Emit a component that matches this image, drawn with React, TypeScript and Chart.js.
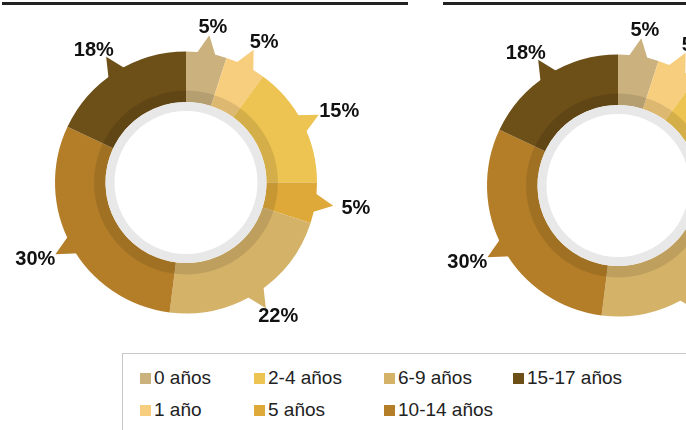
import React, { useEffect, useRef } from "react";
import { Chart, registerables } from "chart.js";

Chart.register(...registerables);

const categories = ["0 años", "1 año", "2-4 años", "5 años", "6-9 años", "10-14 años", "15-17 años"];
const leftValues = [5, 5, 15, 5, 22, 30, 18];
const rightValues = [5, 5, 15, 5, 22, 30, 18];
const colors = ["#CAB17D", "#F7CD7E", "#EDC352", "#DEA939", "#D4B268", "#B47E28", "#6D4F18"];

const decorPlugin = {
  id: "decor",
  beforeDatasetsDraw(chart: any) {
    const ctx = chart.ctx;
    const meta = chart.getDatasetMeta(0);
    meta.data.forEach((arc: any, i: number) => {
      const { x, y, startAngle, endAngle, outerRadius } = arc.getProps(["x", "y", "startAngle", "endAngle", "outerRadius"], true);
      const mid = (startAngle + endAngle) / 2;
      const hw = (4.7 * Math.PI) / 180;
      const rb = outerRadius - 3;
      const rt = outerRadius + 18;
      ctx.save();
      ctx.beginPath();
      ctx.moveTo(x + rb * Math.cos(mid - hw), y + rb * Math.sin(mid - hw));
      ctx.lineTo(x + rt * Math.cos(mid), y + rt * Math.sin(mid));
      ctx.lineTo(x + rb * Math.cos(mid + hw), y + rb * Math.sin(mid + hw));
      ctx.closePath();
      ctx.fillStyle = colors[i];
      ctx.fill();
      ctx.restore();
    });
  },
  afterDatasetsDraw(chart: any) {
    const ctx = chart.ctx;
    const meta = chart.getDatasetMeta(0);
    const first = meta.data[0];
    if (!first) return;
    const { x, y, innerRadius, outerRadius } = first.getProps(["x", "y", "innerRadius", "outerRadius"], true);
    ctx.save();
    // translucent inner band
    ctx.beginPath();
    ctx.arc(x, y, innerRadius + 11.5, 0, Math.PI * 2);
    ctx.arc(x, y, innerRadius, 0, Math.PI * 2, true);
    ctx.fillStyle = "rgba(0,0,0,0.1)";
    ctx.fill("evenodd");
    // light gray ring
    ctx.beginPath();
    ctx.arc(x, y, innerRadius, 0, Math.PI * 2);
    ctx.arc(x, y, innerRadius - 9, 0, Math.PI * 2, true);
    ctx.fillStyle = "#E8E8E8";
    ctx.fill("evenodd");
    // labels
    const data = chart.data.datasets[0].data as number[];
    const total = data.reduce((a: number, b: number) => a + b, 0);
    ctx.font = "bold 20px 'Liberation Sans', Arial, Helvetica, sans-serif";
    ctx.fillStyle = "#111";
    ctx.textAlign = "center";
    ctx.textBaseline = "middle";
    const a = outerRadius + 41;
    const b = outerRadius + 27;
    meta.data.forEach((arc: any, i: number) => {
      const p = arc.getProps(["startAngle", "endAngle"], true);
      const mid = (p.startAngle + p.endAngle) / 2;
      const txt = Math.round((data[i] / total) * 100) + "%";
      const lx = x + a * Math.cos(mid);
      const ly = y + b * Math.sin(mid);
      ctx.fillText(txt, lx, ly + 1);
    });
    ctx.restore();
  },
};

function DoughnutPanel({ values, left, top }: { values: number[]; left: number; top: number }) {
  const ref = useRef<HTMLCanvasElement | null>(null);
  useEffect(() => {
    if (!ref.current) return;
    const chart = new Chart(ref.current, {
      type: "doughnut",
      data: {
        labels: categories,
        datasets: [
          {
            data: values,
            backgroundColor: colors,
            borderWidth: 0,
          },
        ],
      },
      options: {
        responsive: false,
        animation: false,
        radius: 131,
        cutout: (80.5 / 131) * 100 + "%",
        layout: { padding: { left: 0, top: 0, right: 48, bottom: 15 } },
        plugins: {
          legend: { display: false },
          tooltip: { enabled: false },
        },
      } as any,
      plugins: [decorPlugin as any],
    });
    return () => chart.destroy();
  }, [values]);
  return (
    <canvas
      ref={ref}
      width={420}
      height={380}
      style={{ position: "absolute", left, top, width: 420, height: 380, display: "block" }}
    />
  );
}

export default function App() {
  const font = "'Liberation Sans', Arial, Helvetica, sans-serif";
  return (
    <div
      style={{
        position: "fixed",
        left: 0,
        top: 0,
        width: 686,
        height: 430,
        overflow: "hidden",
        background: "#fff",
      }}
    >
      <div style={{ position: "absolute", left: 2, top: 2, width: 406, height: 3, background: "#222" }} />
      <div style={{ position: "absolute", left: 443, top: 2, width: 300, height: 3, background: "#222" }} />
      <DoughnutPanel values={leftValues} left={0} top={0} />
      <DoughnutPanel values={rightValues} left={432} top={3} />
      <div
        style={{
          position: "absolute",
          left: 122,
          top: 353,
          width: 640,
          height: 120,
          border: "1px solid #c8c8c8",
          background: "#fff",
          boxSizing: "border-box",
          paddingLeft: 17,
          paddingTop: 8,
          display: "grid",
          gridTemplateColumns: "114px 130px 129px auto",
          gridTemplateRows: "32px 32px",
          gridAutoFlow: "column",
          fontFamily: font,
          fontSize: 19,
          color: "#222",
          lineHeight: "32px",
        }}
      >
        {categories.map((c, i) => (
          <div key={c} style={{ whiteSpace: "nowrap" }}>
            <span
              style={{
                display: "inline-block",
                width: 11,
                height: 11,
                background: colors[i],
                marginRight: 3,
                verticalAlign: "baseline",
              }}
            />
            {c}
          </div>
        ))}
      </div>
    </div>
  );
}
